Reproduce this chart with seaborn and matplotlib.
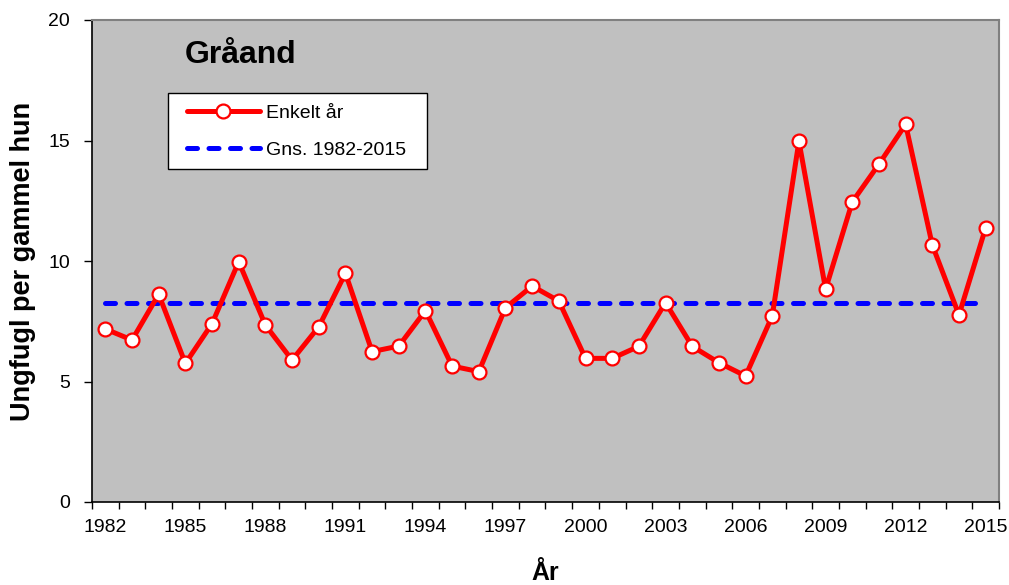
import numpy as np
import pandas as pd
import matplotlib
matplotlib.use("Agg")
import matplotlib.pyplot as plt
import seaborn as sns
from matplotlib.lines import Line2D
from matplotlib.patches import Rectangle

years = list(range(1982, 2016))
values = [7.18, 6.72, 8.62, 5.75, 7.40, 9.97, 7.34, 5.89, 7.27, 9.49,
          6.24, 6.47, 7.94, 5.64, 5.41, 8.06, 8.96, 8.34, 5.96, 5.96,
          6.46, 8.27, 6.46, 5.78, 5.23, 7.72, 14.97, 8.83, 12.45, 14.02,
          15.67, 10.66, 7.76, 11.38]
mean_value = 8.26
title_text = "Gråand"
series_label = "Enkelt år"
mean_label = "Gns. 1982-2015"
y_label = "Ungfugl per gammel hun"
x_label = "År"
x_tick_years = list(range(1982, 2016, 3))
y_ticks = [0, 5, 10, 15, 20]

sns.set_style("ticks")
plt.rcParams['font.family'] = ['Liberation Sans', 'DejaVu Sans']
plt.rcParams['text.color'] = 'black'
plt.rcParams['axes.labelcolor'] = 'black'
plt.rcParams['xtick.color'] = 'black'
plt.rcParams['ytick.color'] = 'black'

df = pd.DataFrame({"year": years, "value": values})
df_mean = pd.DataFrame({"year": [years[0], years[-1]], "value": [mean_value, mean_value]})

W, H = 1009, 585
L, R, T, B = 92, 999, 20, 502
fig = plt.figure(figsize=(W / 100, H / 100), dpi=100)
ax = fig.add_axes([L / W, 1 - B / H, (R - L) / W, (B - T) / H])
ax.set_facecolor("#c0c0c0")

sns.lineplot(data=df_mean, x="year", y="value", ax=ax, color="#0000ff",
             linewidth=3.6, zorder=2)
ax.lines[-1].set_dashes((2.0, 2.3))
ax.lines[-1].set_dash_capstyle("round")
sns.lineplot(data=df, x="year", y="value", ax=ax, color="#ff0000",
             linewidth=3.6, marker="o", markersize=10, markerfacecolor="white",
             markeredgecolor="#ff0000", markeredgewidth=1.6, zorder=3)

ax.set_xlim(1981.5, 2015.5)
ax.set_ylim(0, 20)
ax.set_xticks(x_tick_years)
ax.set_xticklabels([str(y) for y in x_tick_years])
ax.set_xticks(np.arange(1981.5, 2016, 1.0), minor=True)
ax.tick_params(axis="x", which="major", length=0, pad=12, labelsize=14, labelcolor="black")
ax.tick_params(axis="x", which="minor", length=5, width=1, direction="out", color="black")
ax.set_yticks(y_ticks)
ax.tick_params(axis="y", which="major", length=6, width=1, direction="out", pad=10,
               labelsize=14, labelcolor="black", color="black")

for side in ["left", "bottom"]:
    ax.spines[side].set_color("black")
    ax.spines[side].set_linewidth(1.2)
for side in ["top", "right"]:
    ax.spines[side].set_visible(True)
    ax.spines[side].set_color("#808080")
    ax.spines[side].set_linewidth(1.5)

ax.set_xlabel(x_label, fontsize=18, fontweight="bold", labelpad=18, color="black")
ax.set_ylabel(y_label, fontsize=19.5, fontweight="bold", labelpad=9, color="black")

def ax_x(px):
    return (px - L) / (R - L)

def ax_y(py):
    return (B - py) / (B - T)

ax.text(ax_x(185), ax_y(63), title_text, transform=ax.transAxes, fontsize=23,
        fontweight="bold", va="baseline", ha="left", color="black")

# legend box
ax.add_patch(Rectangle((ax_x(168), ax_y(169)), ax_x(427) - ax_x(168), ax_y(93) - ax_y(169),
                       transform=ax.transAxes, facecolor="white", edgecolor="black",
                       linewidth=1.0, zorder=4))

h1 = Line2D([], [], color="#ff0000", linewidth=3.6, marker="o", markersize=10,
            markerfacecolor="white", markeredgecolor="#ff0000", markeredgewidth=1.6)
h2 = Line2D([], [], color="#0000ff", linewidth=3.6, dashes=(2.0, 2.3),
            dash_capstyle="round")
leg = ax.legend([h1, h2], [series_label, mean_label], loc="upper left",
                bbox_to_anchor=(ax_x(187), ax_y(104)), borderaxespad=0, borderpad=0,
                fontsize=14, frameon=False, handlelength=3.75, handletextpad=0.3,
                labelspacing=1.0, numpoints=1)
leg.set_zorder(5)

fig.savefig("out.png", dpi=100, facecolor="white")
